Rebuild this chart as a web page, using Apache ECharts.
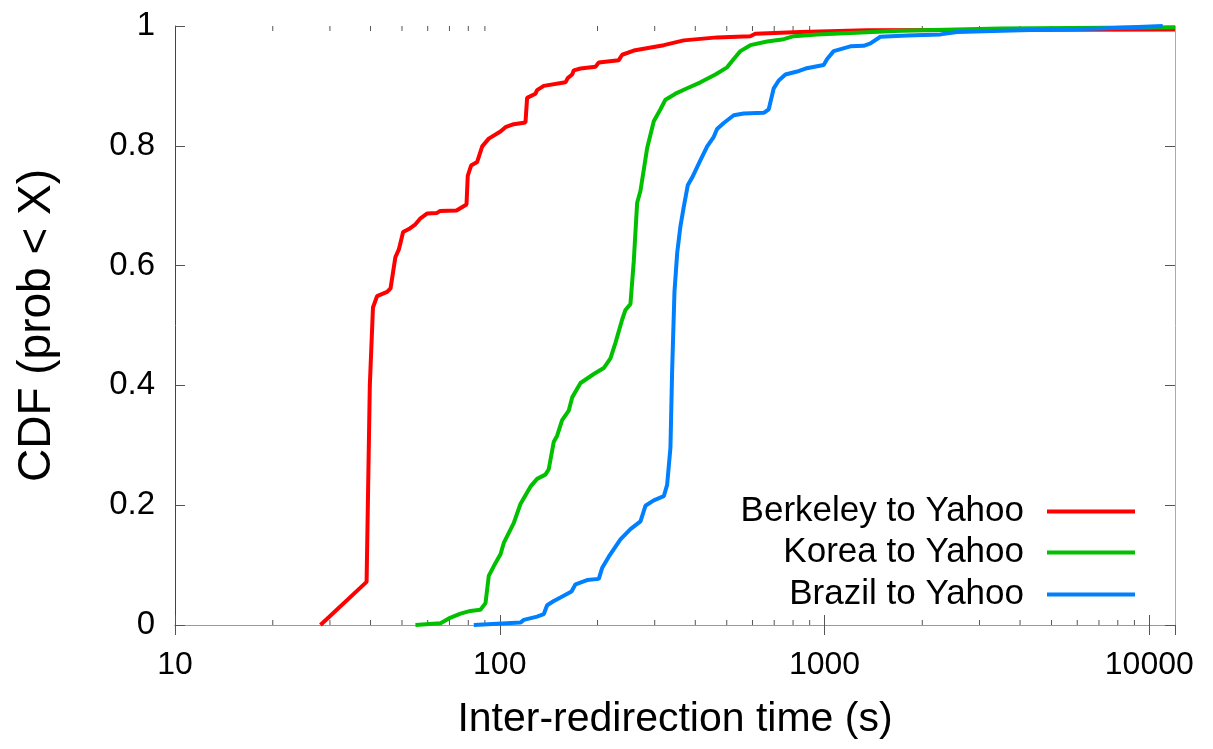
<!DOCTYPE html>
<html>
<head>
<meta charset="utf-8">
<script src="https://cdn.jsdelivr.net/npm/echarts@6/dist/echarts.min.js"></script>
<style>
  html, body { margin: 0; padding: 0; background: #fff; }
  #chart { width: 1213px; height: 749px; }
</style>
</head>
<body>
<div id="chart"></div>
<script>
// series: [inter-redirection time (s), CDF]
const berkeley = [
  [28.05, 0], [38.9, 0.072], [39.8, 0.40], [40.7, 0.53], [41.9, 0.549], [45, 0.556], [46.1, 0.562],
  [47.7, 0.614], [48.9, 0.627], [50.4, 0.656], [52.5, 0.661], [55, 0.669], [57, 0.679], [59.8, 0.687],
  [64.1, 0.688], [65.4, 0.691], [73.6, 0.692], [79, 0.702], [79.7, 0.75], [81.6, 0.767], [85.2, 0.773],
  [88.3, 0.799], [92.5, 0.812], [100.5, 0.824], [104.1, 0.831], [110.4, 0.836], [120, 0.839],
  [121.4, 0.88], [128.8, 0.887], [130.3, 0.893], [136.6, 0.9], [159.4, 0.906], [161.9, 0.913],
  [167.1, 0.919], [169, 0.926], [177.3, 0.929], [197.1, 0.932], [201.8, 0.939], [232.5, 0.943],
  [238.2, 0.952], [258.6, 0.959], [320, 0.968], [368.6, 0.976], [466.8, 0.981], [591, 0.983],
  [612, 0.987], [843, 0.99], [1352, 0.993], [12000, 0.994]
]
const korea = [
  [55, 0], [65.7, 0.003], [69.7, 0.011], [75.7, 0.019], [81.2, 0.0235], [87.2, 0.0255], [90.4, 0.0365],
  [92.5, 0.082], [95.8, 0.098], [100.5, 0.118], [102.9, 0.137], [110.4, 0.17], [115.8, 0.202],
  [124.3, 0.231], [130.3, 0.244], [138.2, 0.251], [141.5, 0.26], [146.7, 0.306], [150.2, 0.316],
  [155.6, 0.342], [163.1, 0.358], [167.1, 0.38], [177.3, 0.404], [194.8, 0.419], [209, 0.429],
  [219.2, 0.445], [227.1, 0.471], [238.2, 0.51], [243.8, 0.526], [252.6, 0.536], [258.6, 0.607],
  [264.9, 0.705], [271.2, 0.725], [284.3, 0.796], [298, 0.841], [312.5, 0.861], [323.7, 0.877],
  [347.5, 0.887], [377.6, 0.896], [414.9, 0.906], [461.3, 0.919], [501.3, 0.931], [525.3, 0.945],
  [550.8, 0.958], [591, 0.968], [665.8, 0.974], [749, 0.978], [803.9, 0.983], [948, 0.986],
  [1712, 0.992], [3479, 0.996], [12000, 0.998]
]
const brazil = [
  [83.2, 0], [115.8, 0.004], [118.6, 0.0085], [130.3, 0.014], [136.6, 0.018], [139.9, 0.033],
  [146.7, 0.04], [153.8, 0.046], [166.3, 0.056], [171.1, 0.068], [185.8, 0.075], [201.8, 0.077],
  [206.6, 0.095], [216.6, 0.114], [235.3, 0.143], [252.6, 0.16], [271.2, 0.173], [280.9, 0.199],
  [298, 0.208], [320, 0.215], [327.6, 0.234], [335.4, 0.296], [339.5, 0.426], [345.1, 0.556],
  [351.8, 0.621], [360.1, 0.666], [368.6, 0.698], [379.2, 0.734], [391.2, 0.747], [414.9, 0.776],
  [435.2, 0.799], [456, 0.815], [466.8, 0.828], [489.5, 0.838], [525.3, 0.851], [563.8, 0.854],
  [650.1, 0.855], [673.3, 0.861], [697.6, 0.896], [722.8, 0.909], [758, 0.919], [823.5, 0.924],
  [873.6, 0.929], [994, 0.935], [1018.6, 0.945], [1067, 0.958], [1201, 0.966], [1320, 0.967],
  [1385, 0.971], [1486, 0.982], [1797, 0.984], [2275, 0.986], [2561, 0.99], [4009, 0.993],
  [7071, 0.996], [11000, 1.0]
]

const seriesNames = ['Berkeley to Yahoo', 'Korea to Yahoo', 'Brazil to Yahoo']
const seriesColors = ['#ff0000', '#00c000', '#0080ff']
const xTickLabels = [10, 100, 1000, 10000]
const minorTicks = [
  20, 30, 40, 50, 60, 70, 80, 90,
  200, 300, 400, 500, 600, 700, 800, 900,
  2000, 3000, 4000, 5000, 6000, 7000, 8000, 9000
]

const FONT = 'Liberation Sans, Arial, sans-serif'
const chart = echarts.init(document.getElementById('chart'), null, { renderer: 'canvas' })

const legendTops = [494, 535, 577]

const option = {
  backgroundColor: '#ffffff',
  animation: false,
  grid: { left: 175, right: 38, top: 26, bottom: 124 },
  legend: seriesNames.map((name, i) => ({
    data: [name],
    orient: 'vertical',
    right: 78,
    top: legendTops[i],
    padding: 0,
    align: 'right',
    icon: 'rect',
    itemWidth: 88,
    itemHeight: 4,
    selectedMode: false,
    textStyle: { fontFamily: FONT, fontSize: 35, color: '#000', padding: [0, 18, 0, 0] }
  })),
  xAxis: [
    {
      type: 'log',
      position: 'bottom',
      min: 10,
      max: 12000,
      name: 'Inter-redirection time (s)',
      nameLocation: 'middle',
      nameGap: 74,
      nameTextStyle: { fontFamily: FONT, fontSize: 41, color: '#000' },
      axisLine: { lineStyle: { color: '#777', width: 1 } },
      axisTick: { inside: true, length: 10, lineStyle: { color: '#555' } },
      axisLabel: {
        fontFamily: FONT, fontSize: 32, color: '#000', margin: 24,
        showMaxLabel: false,
        formatter: v => xTickLabels.includes(v) ? String(v) : ''
      },
      splitLine: { show: false },
      minorTick: { show: false }
    },
    {
      type: 'log',
      position: 'top',
      min: 10,
      max: 12000,
      axisLine: { lineStyle: { color: '#999', width: 1 } },
      axisTick: { inside: true, length: 10, lineStyle: { color: '#555' } },
      axisLabel: { show: false },
      splitLine: { show: false }
    }
  ],
  yAxis: [
    {
      type: 'value',
      position: 'left',
      min: 0,
      max: 1,
      interval: 0.2,
      name: 'CDF (prob < X)',
      nameLocation: 'middle',
      nameGap: 115,
      nameTextStyle: { fontFamily: FONT, fontSize: 46, color: '#000' },
      axisLine: { show: true, lineStyle: { color: '#444', width: 1 } },
      axisTick: { show: true, inside: true, length: 10, lineStyle: { color: '#555' } },
      axisLabel: { fontFamily: FONT, fontSize: 33, color: '#000', margin: 20 },
      splitLine: { show: false }
    },
    {
      type: 'value',
      position: 'right',
      min: 0,
      max: 1,
      interval: 0.2,
      axisLine: { show: true, lineStyle: { color: '#aaa', width: 1 } },
      axisTick: { show: true, inside: true, length: 10, lineStyle: { color: '#555' } },
      axisLabel: { show: false },
      splitLine: { show: false }
    }
  ],
  series: [
    {
      // minor ticks on bottom and top borders, placed through the log scale
      type: 'custom',
      name: 'minorTicks',
      silent: true,
      xAxisIndex: 0,
      yAxisIndex: 0,
      data: minorTicks.map(v => [v, 0]),
      renderItem: (params, api) => {
        const b = api.coord([api.value(0), 0])
        const t = api.coord([api.value(0), 1])
        const style = { stroke: '#555', lineWidth: 1 }
        return {
          type: 'group',
          children: [
            { type: 'line', shape: { x1: b[0], y1: b[1], x2: b[0], y2: b[1] - 5 }, style },
            { type: 'line', shape: { x1: t[0], y1: t[1], x2: t[0], y2: t[1] + 5 }, style }
          ]
        }
      },
      z: 1
    },
    ...[berkeley, korea, brazil].map((data, i) => ({
      name: seriesNames[i],
      type: 'line',
      data,
      showSymbol: false,
      symbol: 'none',
      color: seriesColors[i],
      lineStyle: { color: seriesColors[i], width: 4 },
      z: 2 + i
    }))
  ]
}

chart.setOption(option)
</script>
</body>
</html>
